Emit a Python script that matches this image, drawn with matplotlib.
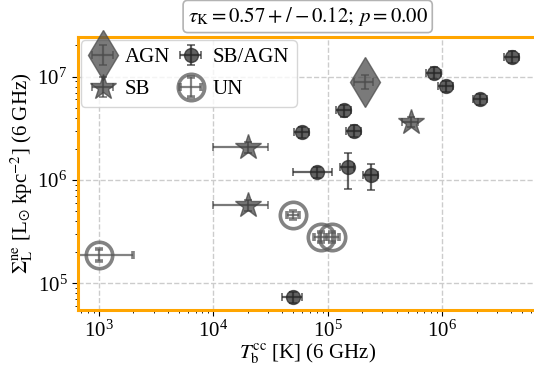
import numpy as np
import matplotlib
matplotlib.use("agg")
from matplotlib import pyplot as plt

plt.rcParams['font.family'] = 'serif'
plt.rcParams['font.serif'] = ['Liberation Serif', 'DejaVu Serif']
plt.rcParams['mathtext.fontset'] = 'stix'

# brightness temperature [K] and surface luminosity density, per class
sbagn_tb = [4.1e6, 8.5e5, 1.09e6, 2.15e6, 1.39e5, 1.7e5, 6.0e4, 8.0e4, 1.49e5, 2.39e5, 5.0e4]
sbagn_sig = [1.56e7, 1.09e7, 8.1e6, 6.1e6, 4.7e6, 3.0e6, 2.9e6, 1.19e6, 1.32e6, 1.12e6, 7.3e4]
sbagn_tb_err = [6e5, 1.2e5, 1.6e5, 3e5, 2e4, 2.5e4, 9e3, 3e4, 2e4, 3.5e4, 1e4]
sbagn_sig_err = [2e6, 1.4e6, 1e6, 7.5e5, 6e5, 3.7e5, 3.5e5, 1.5e5, 5e5, 3.2e5, 9e3]

agn_tb = [2.1e5]
agn_sig = [8.95e6]
agn_tb_err = [4e4]
agn_sig_err = [1.3e6]

sb_tb = [2.0e4, 2.0e4, 5.3e5]
sb_sig = [2.07e6, 5.7e5, 3.67e6]
sb_tb_err = [1e4, 1e4, 8e4]
sb_sig_err = [2.5e5, 7e4, 4e5]

un_tb = [1e3, 5.0e4, 8.8e4, 1.1e5]
un_sig = [1.88e5, 4.6e5, 2.8e5, 2.8e5]
un_tb_err = [1e3, 6e3, 1.2e4, 1.5e4]
un_sig_err = [2.5e4, 4e4, 3e4, 3e4]

tau, tau_err, pval = 0.57, 0.12, 0.00

fig = plt.figure(figsize=(5.34, 3.69), dpi=100)
ax = fig.add_axes([0.1457, 0.160, 0.861, 0.739])

ekw = dict(linestyle='none', elinewidth=1.6, capsize=3, capthick=1.2)
ax.errorbar(agn_tb, agn_sig, xerr=agn_tb_err, yerr=agn_sig_err, fmt='d',
            color='0.3', alpha=0.75, markersize=25, label='AGN', **ekw)
ax.errorbar(sb_tb, sb_sig, xerr=sb_tb_err, yerr=sb_sig_err, fmt='*',
            color='0.25', alpha=0.7, markersize=19, label='SB', **ekw)
ax.errorbar(sbagn_tb, sbagn_sig, xerr=sbagn_tb_err, yerr=sbagn_sig_err, fmt='o',
            color='0.15', alpha=0.72, markersize=10, label='SB/AGN', **ekw)
ax.errorbar(un_tb, un_sig, xerr=un_tb_err, yerr=un_sig_err, fmt='o',
            color='0.35', alpha=0.75, markersize=19, markerfacecolor='none',
            markeredgewidth=2.6, label='UN', **ekw)

ax.set_xscale('log')
ax.set_yscale('log')
ax.set_xlim(652, 6.84e6)
ax.set_ylim(5.52e4, 2.40e7)

ax.grid(True, which='major', linestyle='--', color='0.8', linewidth=1)
for sp in ax.spines.values():
    sp.set_color('orange')
    sp.set_linewidth(2.2)
ax.tick_params(axis='both', which='major', labelsize=15, length=4)
ax.tick_params(axis='both', which='minor', length=2)

ax.set_xlabel(r'$T_{\rm b}^{\rm cc}$ [K] (6 GHz)', fontsize=15, labelpad=0)
ax.set_ylabel(r'$\Sigma_{\rm L}^{\rm ne}$ [L$_{\odot}$ kpc$^{-2}$] (6 GHz)', fontsize=15, labelpad=2)

ax.set_title(r'$\tau_{\rm K} = %.2f+/-%.2f;\, p = %.2f$' % (tau, tau_err, pval), fontsize=15, pad=11,
             bbox=dict(boxstyle='round,pad=0.22', facecolor='white', edgecolor='0.7', linewidth=1.2))

ax.legend(loc='upper left', ncol=2, fontsize=15, columnspacing=0.3, handletextpad=0.35,
          handlelength=1.4, borderpad=0.35, labelspacing=0.6, borderaxespad=0.15, framealpha=0.8)

fig.savefig('out.png', dpi=100)
